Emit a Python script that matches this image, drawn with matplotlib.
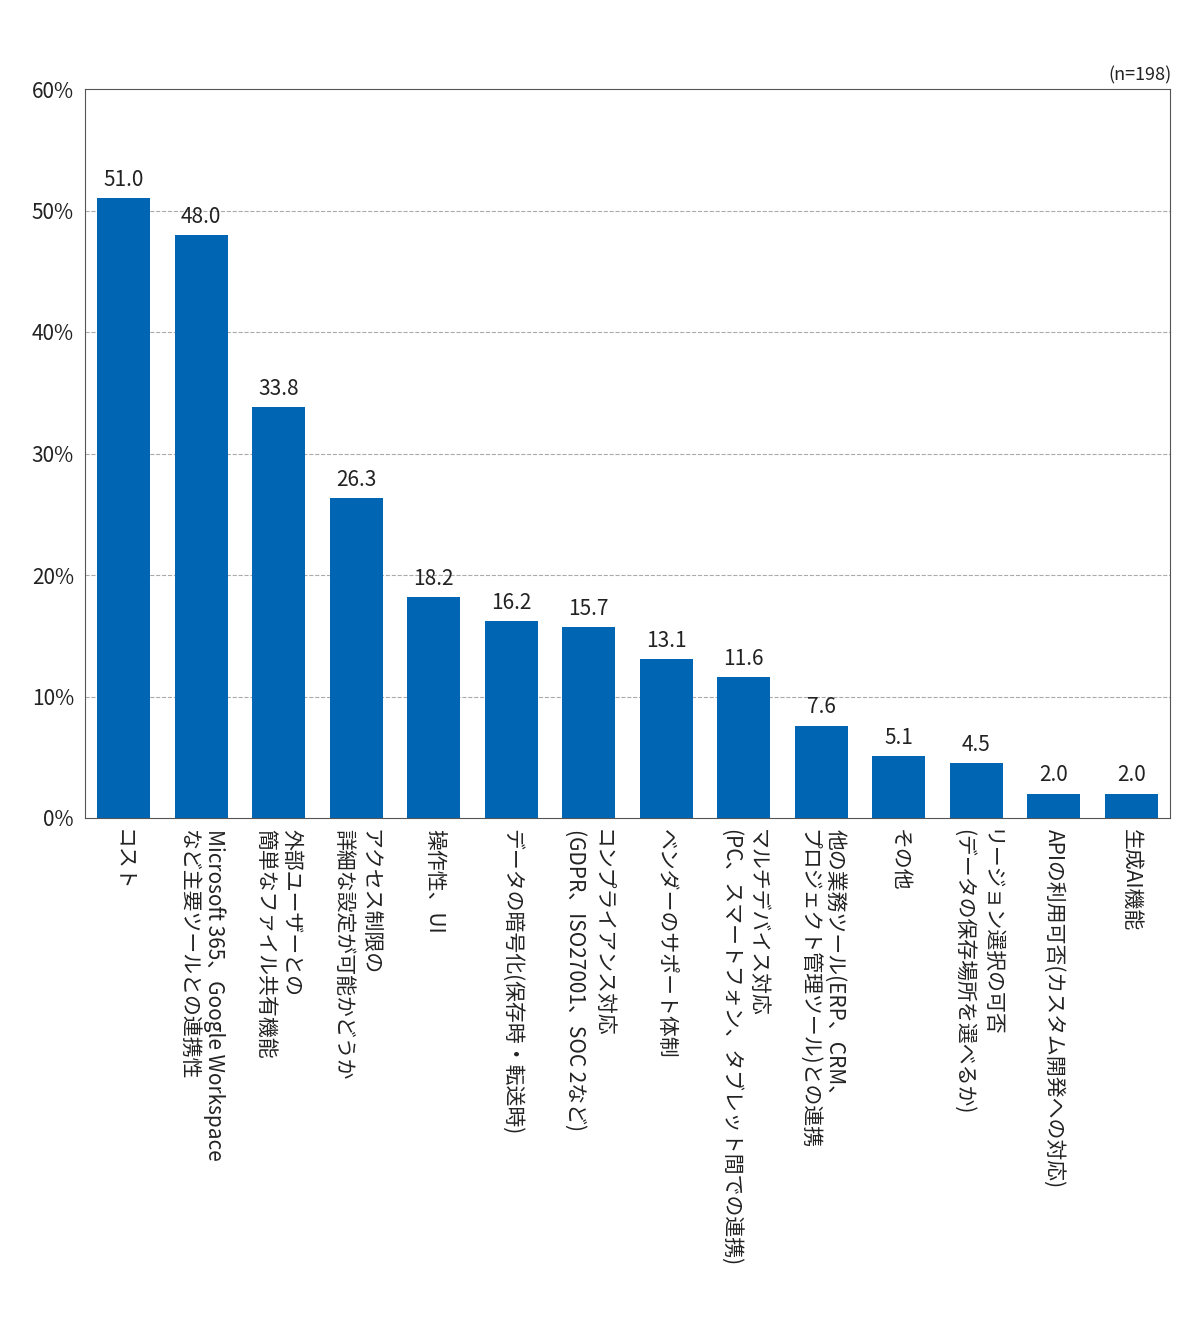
import matplotlib.pyplot as plt

plt.rcParams['font.family'] = ['Noto Sans CJK JP', 'DejaVu Sans']

labels = ["コスト",
          "Microsoft 365、Google Workspace\nなど主要ツールとの連携性",
          "外部ユーザーとの\n簡単なファイル共有機能",
          "アクセス制限の\n詳細な設定が可能かどうか",
          "操作性、UI",
          "データの暗号化(保存時・転送時)",
          "コンプライアンス対応\n(GDPR、ISO27001、SOC 2など)",
          "ベンダーのサポート体制",
          "マルチデバイス対応\n(PC、スマートフォン、タブレット間での連携)",
          "他の業務ツール(ERP、CRM、\nプロジェクト管理ツール)との連携",
          "その他",
          "リージョン選択の可否\n(データの保存場所を選べるか)",
          "APIの利用可否(カスタム開発への対応)",
          "生成AI機能"]
values = [51.0, 48.0, 33.8, 26.3, 18.2, 16.2, 15.7, 13.1, 11.6, 7.6, 5.1, 4.5, 2.0, 2.0]
yticks = [0, 10, 20, 30, 40, 50, 60]

fig = plt.figure(figsize=(12, 13.21), dpi=100)
ax = fig.add_axes([85/1200, 1-818/1321, 1085/1200, 729/1321])

x = range(len(values))
ax.bar(x, values, width=0.68, color='#0066b3', zorder=3)
for i, v in zip(x, values):
    ax.text(i, v + 0.6, f"{v:.1f}", ha='center', va='bottom', fontsize=15, color='#222222')
    ax.text(i, -0.9, labels[i], rotation=-90, ha='center', va='top', fontsize=15,
            multialignment='left', linespacing=1.25, color='#222222')

ax.set_xlim(-0.5, len(values) - 0.5)
ax.set_ylim(0, 60)
ax.set_yticks(yticks)
ax.set_yticklabels([f"{t}%" for t in yticks], fontsize=15, color='#222222')
ax.set_xticks([])
ax.tick_params(axis='y', length=0, pad=8)
for t in yticks[1:-1]:
    ax.axhline(t, color='#aaaaaa', linestyle='--', linewidth=0.8, zorder=1)
for s in ax.spines.values():
    s.set_color('#555555')
    s.set_linewidth(0.8)

fig.text(1172/1200, 1-75/1321, "(n=198)", ha='right', va='center', fontsize=13, color='#222222')

fig.savefig("out.png", dpi=100)
